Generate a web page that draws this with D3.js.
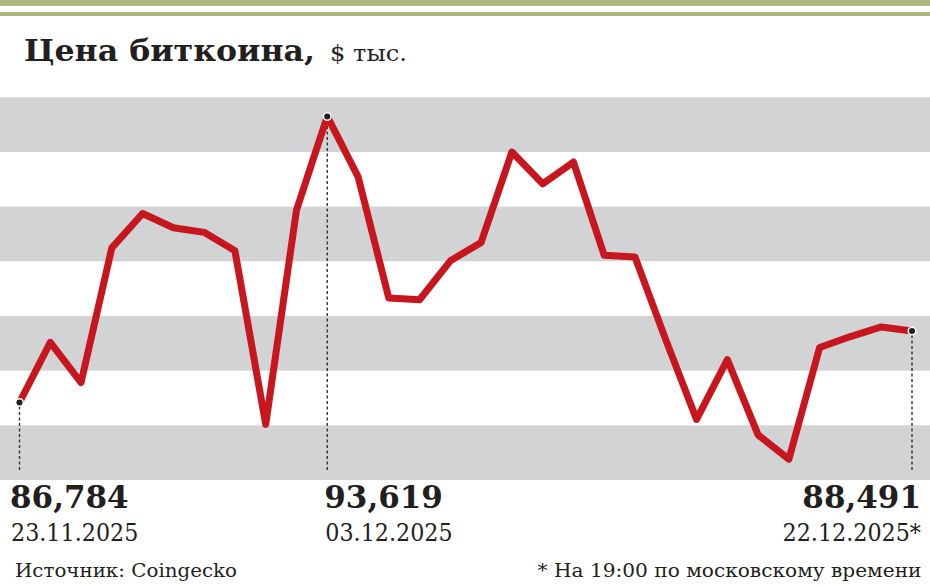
<!DOCTYPE html>
<html>
<head>
<meta charset="utf-8">
<script src="https://cdn.jsdelivr.net/npm/d3@7"></script>
<style>
  body { margin: 0; background: #fff; }
  svg { display: block; }
</style>
</head>
<body>
<div id="chart"></div>
<script>
// даты (дневные точки) и цена биткоина, тыс. $
const dates = ["23.11", "24.11", "25.11", "26.11", "27.11", "28.11", "29.11", "30.11", "01.12", "02.12",
  "03.12", "04.12", "05.12", "06.12", "07.12", "08.12", "09.12", "10.12", "11.12", "12.12",
  "13.12", "14.12", "15.12", "16.12", "17.12", "18.12", "19.12", "20.12", "21.12", "22.12"];
const prices = [86.784, 88.22, 87.26, 90.48, 91.30, 90.96, 90.85, 90.41, 86.26, 91.38,
  93.619, 92.18, 89.28, 89.24, 90.17, 90.61, 92.77, 92.01, 92.53, 90.30,
  90.26, 88.28, 86.38, 87.81, 86.01, 85.43, 88.10, 88.36, 88.59, 88.491];

const markIdx = [0, 10, 29];
const markValues = ["86,784", "93,619", "88,491"];
const markDates = ["23.11.2025", "03.12.2025", "22.12.2025*"];

const width = 930;
const height = 587;
const bandCount = 7;
const yDomain = [84.932, 94.077];

const svg = d3.select("#chart")
  .append("svg")
  .attr("width", width)
  .attr("height", height);

const x = d3.scalePoint().domain(dates).range([19.5, 912]);
const y = d3.scaleLinear().domain(yDomain).range([480, 97.3]);

// верхние оливковые линии
svg.append("rect").attr("x", 0).attr("y", 0).attr("width", width).attr("height", 6).attr("fill", "#b0b67f");
svg.append("rect").attr("x", 0).attr("y", 12).attr("width", width).attr("height", 4).attr("fill", "#b0b67f");

// заголовок
svg.append("text")
  .attr("x", 24)
  .attr("y", 61)
  .attr("font-family", "DejaVu Serif")
  .attr("font-weight", "bold")
  .attr("font-size", 30)
  .attr("textLength", 291)
  .attr("lengthAdjust", "spacingAndGlyphs")
  .attr("fill", "#231f20")
  .text("Цена биткоина,");

svg.append("text")
  .attr("x", 330)
  .attr("y", 61)
  .attr("font-family", "DejaVu Serif")
  .attr("font-weight", 300)
  .attr("font-size", 22)
  .attr("textLength", 77)
  .attr("lengthAdjust", "spacingAndGlyphs")
  .attr("fill", "#231f20")
  .text("$ тыс.");

// серые полосы
const step = (yDomain[1] - yDomain[0]) / bandCount;
const bands = d3.range(bandCount).filter(i => i % 2 === 0);
svg.selectAll(".band")
  .data(bands)
  .join("rect")
  .attr("class", "band")
  .attr("x", 0)
  .attr("width", width)
  .attr("y", i => y(yDomain[1] - step * i))
  .attr("height", i => y(yDomain[1] - step * (i + 1)) - y(yDomain[1] - step * i))
  .attr("fill", "#d1d3d4");

// пунктирные выноски
svg.selectAll(".lead")
  .data(markIdx)
  .join("line")
  .attr("class", "lead")
  .attr("x1", i => x(dates[i]))
  .attr("x2", i => x(dates[i]))
  .attr("y1", i => y(prices[i]) + 4)
  .attr("y2", 472)
  .attr("stroke", "#333")
  .attr("stroke-width", 1.4)
  .attr("stroke-dasharray", "3,2.5");

// линия цены
const line = d3.line()
  .x((d, i) => x(dates[i]))
  .y(d => y(d));

svg.append("path")
  .datum(prices)
  .attr("d", line)
  .attr("fill", "none")
  .attr("stroke", "#c8161e")
  .attr("stroke-width", 7)
  .attr("stroke-linejoin", "round");

svg.selectAll(".dot")
  .data(markIdx)
  .join("circle")
  .attr("class", "dot")
  .attr("cx", i => x(dates[i]))
  .attr("cy", i => y(prices[i]))
  .attr("r", 3.8)
  .attr("fill", "#231f20")
  .attr("stroke", "#fff")
  .attr("stroke-width", 1.5);

// подписи значений
const anchors = ["start", "start", "end"];
const dx = [-9.5, -3, 9];

markIdx.forEach((idx, k) => {
  const lx = x(dates[idx]) + dx[k];
  svg.append("text")
    .attr("x", lx)
    .attr("y", 508)
    .attr("text-anchor", anchors[k])
    .attr("font-family", "DejaVu Serif")
    .attr("font-weight", "bold")
    .attr("font-size", 31)
    .attr("fill", "#231f20")
    .text(markValues[k]);

  // даты чуть сжаты по ширине
  svg.append("text")
    .attr("transform", `translate(${lx + (k === 2 ? 0 : 1)},540.5) scale(0.89,1)`)
    .attr("text-anchor", anchors[k])
    .attr("font-family", "DejaVu Serif")
    .attr("font-weight", 300)
    .attr("font-size", 25)
    .attr("fill", "#231f20")
    .text(markDates[k]);
});

// источник и примечание
svg.append("text")
  .attr("x", 15)
  .attr("y", 577)
  .attr("font-family", "DejaVu Serif")
  .attr("font-size", 19)
  .attr("textLength", 222)
  .attr("lengthAdjust", "spacingAndGlyphs")
  .attr("fill", "#231f20")
  .text("Источник: Coingecko");

svg.append("text")
  .attr("x", 921.5)
  .attr("y", 577)
  .attr("text-anchor", "end")
  .attr("font-family", "DejaVu Serif")
  .attr("font-size", 19)
  .attr("textLength", 384)
  .attr("lengthAdjust", "spacingAndGlyphs")
  .attr("fill", "#231f20")
  .text("* На 19:00 по московскому времени");
</script>
</body>
</html>
